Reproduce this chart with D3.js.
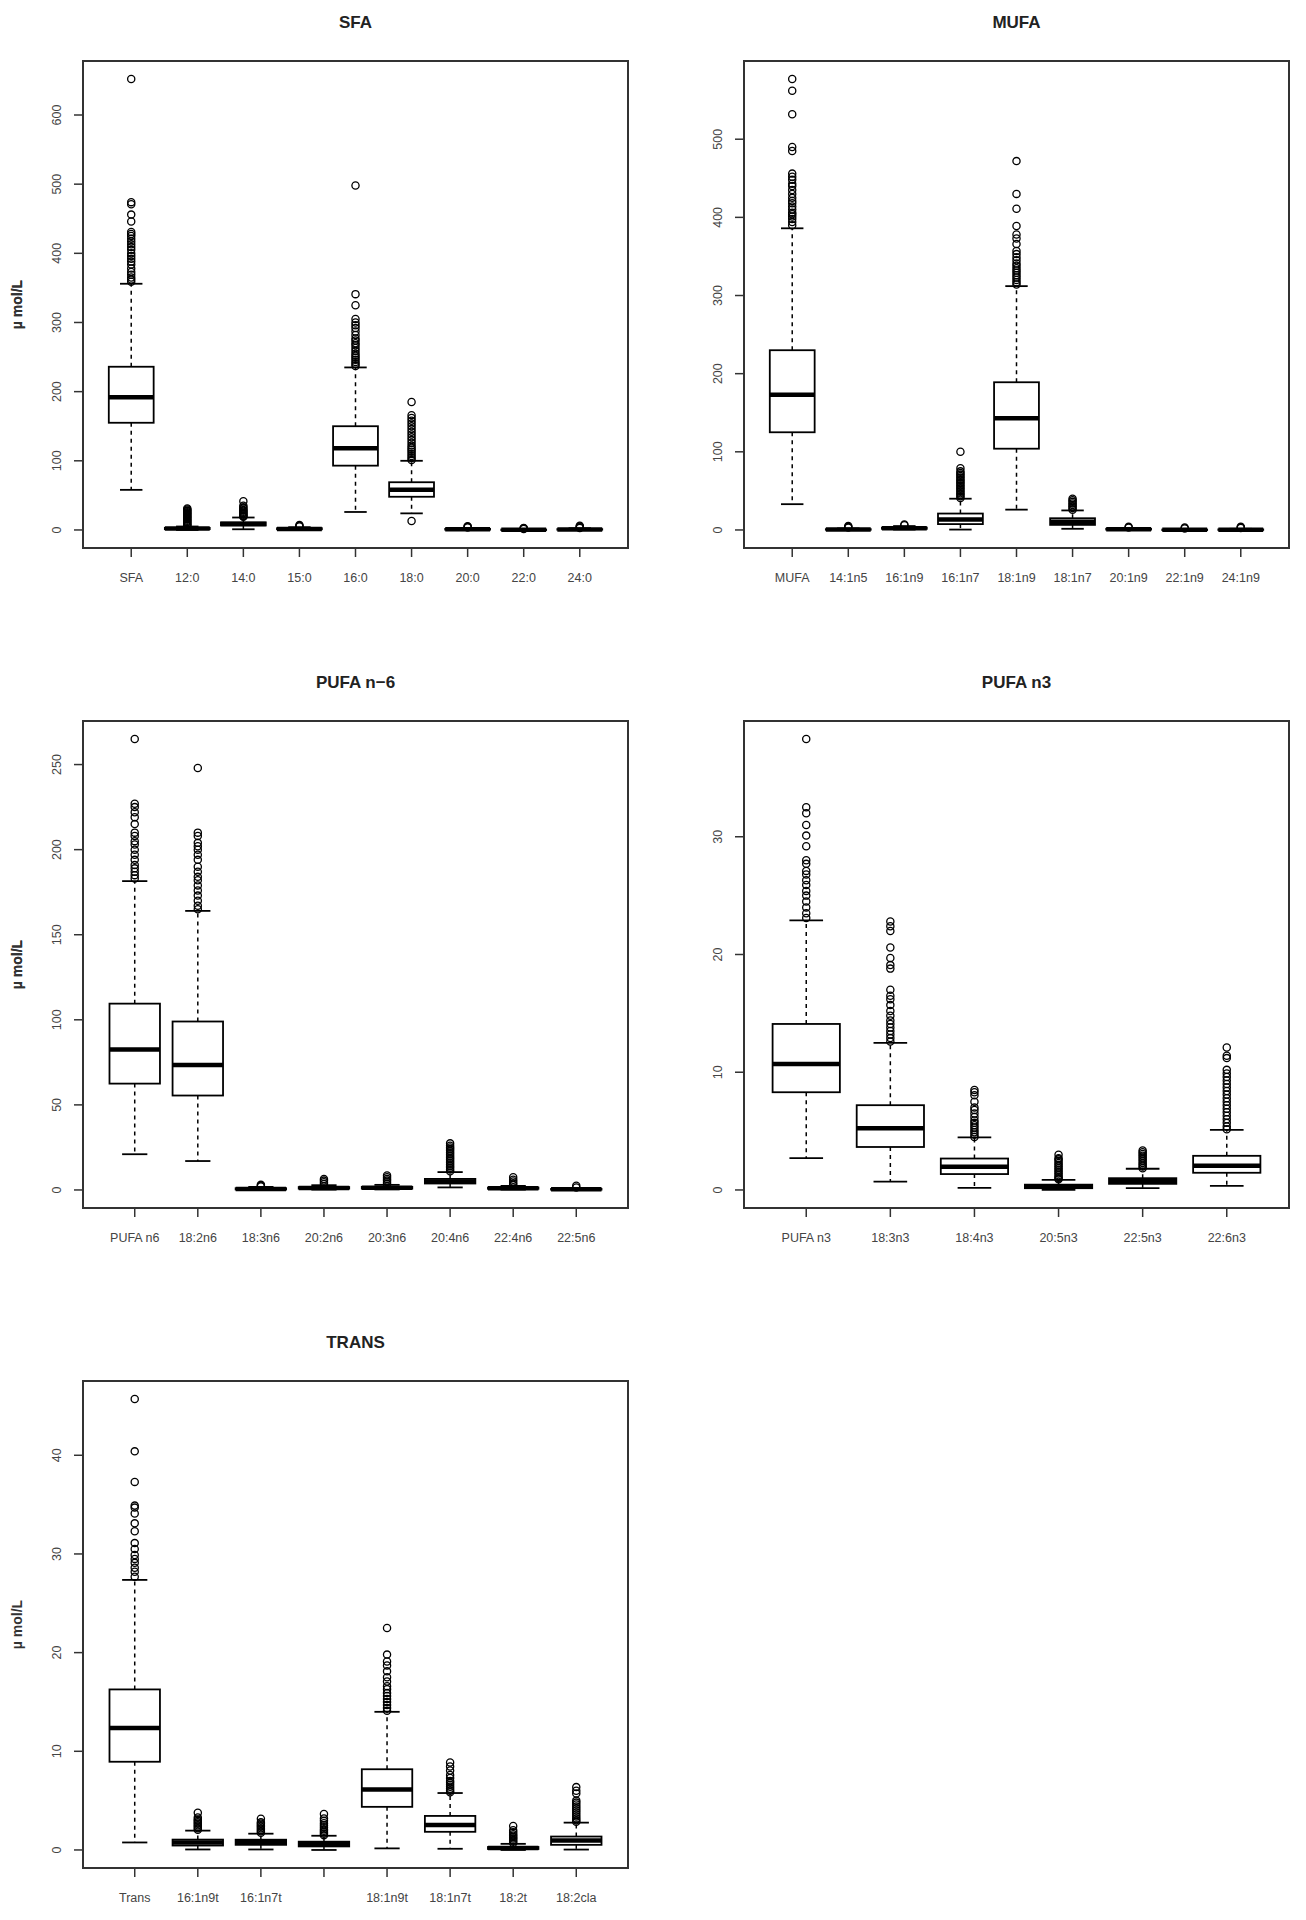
<!DOCTYPE html>
<html>
<head>
<meta charset="utf-8">
<script src="https://cdn.jsdelivr.net/npm/d3@7"></script>
<style>
  html, body { margin: 0; padding: 0; background: #fff; }
  svg { display: block; }
</style>
</head>
<body>
<script>
// ---------------- DATA ----------------
// stats: [lower whisker, Q1, median, Q3, upper whisker]
const sfaCats = ["SFA","12:0","14:0","15:0","16:0","18:0","20:0","22:0","24:0"];
const sfaStats = [
  [58,155,192,236,356],[0,1.2,2,3,5],[1,6.5,8.5,11,18],[0,1,1.5,2.5,4],
  [26,93,118,150,235],[24,48,58,69,100],[0,0.5,1,1.5,3],[0,0.2,0.4,0.6,1.2],[0,0.4,0.8,1.2,2.5]
];
const sfaOut = [
  [359,362,365,369,373,378,384,388,392,396,400,405,409,413,417,421,425,428,431,446,456,471,474,652],
  [6,7,8,9.5,11,12,13.5,15,16,17.5,19,20,21.5,23,24,25.5,27,28,29.5,31],
  [19,20,21,22.5,24,25,26.5,28,29,31,33,35,41.5],
  [5,6,7],
  [237,240,243,246,249,252,255,259,263,267,270,274,277,282,287,292,296,300,305,325,341,498],
  [13,101,104,107,110,113,116,119,122,126,130,134,138,142,146,150,154,158,162,166,185],
  [3.5,4.5,5.5],[1.5,2.5,3],[3,4,5,6]
];
const sfaTicks = [0,100,200,300,400,500,600];

const mufaCats = ["MUFA","14:1n5","16:1n9","16:1n7","18:1n9","18:1n7","20:1n9","22:1n9","24:1n9"];
const mufaStats = [
  [33,125,173,230,386],[0,0.3,0.6,1,2],[0.5,1.5,2.2,3,5],[0.5,7.5,13.5,21,40],
  [26,104,143,189,312],[1.5,6.5,10.5,15,25],[0,0.5,1,1.5,2.5],[0,0.1,0.3,0.5,1],[0,0.2,0.4,0.7,1.5]
];
const mufaOut = [
  [390,394,398,401,404,406,410,414,418,421,425,430,435,440,443,448,452,456,485,490,532,562,577],
  [3,4,5],[6,7],
  [41,43,45,47,49,51,53,55,57,59,61,63,65,67,69,71,73,75,79,100],
  [314,317,320,323,326,329,332,335,338,341,345,349,353,357,366,373,378,389,411,430,472],
  [26,28,30,32,34,36,38,40],[3,4],[2,3],[2.5,3.5,4]
];
const mufaTicks = [0,100,200,300,400,500];

const n6Cats = ["PUFA n6","18:2n6","18:3n6","20:2n6","20:3n6","20:4n6","22:4n6","22:5n6"];
const n6Stats = [
  [21,62.5,82.5,109.5,181.5],[17,55.5,73.5,99,164],[0,0.3,0.6,1,1.8],[0.2,0.8,1.2,1.7,2.8],
  [0.3,0.8,1.3,1.8,3],[1.5,3.8,5,6.5,10.5],[0.2,0.7,1,1.4,2.4],[0,0.2,0.4,0.6,1.1]
];
const n6Out = [
  [183,185,187,189,191,194,197,200,203,205,208,210,215,219,222,225,227,265],
  [165,167,170,173,176,179,182,184,187,190,194,197,200,202,204,208,210,248],
  [2,2.5,3],[3.5,4.5,5.5,6.5],[3.5,4.5,5.5,6.5,7.5,8.5],
  [11,12,13,14,15,16,17,18,19,20,21,22,23,24,25,26,27.4],
  [3,4,5,6,7.5],[1.5,2.5]
];
const n6Ticks = [0,50,100,150,200,250];

const n3Cats = ["PUFA n3","18:3n3","18:4n3","20:5n3","22:5n3","22:6n3"];
const n3Stats = [
  [2.7,8.3,10.7,14.1,22.9],[0.7,3.65,5.25,7.2,12.5],[0.17,1.35,1.98,2.67,4.47],
  [0,0.15,0.3,0.45,0.85],[0.15,0.52,0.76,1.0,1.8],[0.35,1.46,2.05,2.9,5.1]
];
const n3Out = [
  [23.1,23.5,24,24.5,25,25.4,25.9,26.3,26.8,27.1,27.7,28,29.2,30.1,31,32,32.5,38.3],
  [12.6,12.9,13.2,13.5,13.8,14.1,14.4,14.8,15.2,15.7,16.2,16.5,17,18.8,19.1,19.7,20.6,22,22.4,22.8],
  [4.5,4.7,4.9,5.1,5.3,5.5,5.7,5.9,6.2,6.5,6.8,7,7.5,8.05,8.3,8.5],
  [0.9,1.0,1.1,1.25,1.4,1.55,1.7,1.85,2.0,2.15,2.3,2.45,2.6,2.7,3.0],
  [1.85,2,2.15,2.3,2.45,2.6,2.75,2.9,3.05,3.2,3.35],
  [5.15,5.4,5.7,6,6.3,6.6,6.9,7.2,7.5,7.8,8.1,8.4,8.7,9,9.3,9.6,9.9,10.2,11.2,11.4,12.1]
];
const n3Ticks = [0,10,20,30];

const transCats = ["Trans","16:1n9t","16:1n7t","","18:1n9t","18:1n7t","18:2t","18:2cla"];
const transStats = [
  [0.76,8.94,12.35,16.27,27.37],[0.05,0.45,0.75,1.05,1.96],[0.05,0.52,0.84,1.04,1.65],
  [0,0.36,0.6,0.84,1.44],[0.16,4.37,6.13,8.18,14],[0.12,1.84,2.52,3.45,5.77],
  [0,0.1,0.2,0.3,0.62],[0.04,0.52,0.96,1.36,2.77]
];
const transOut = [
  [27.7,28.2,28.6,29.1,29.5,29.9,30.5,31.1,32.3,33.1,34.1,34.7,34.9,37.3,40.4,45.7],
  [2.05,2.2,2.35,2.5,2.65,2.8,2.95,3.1,3.3,3.77],
  [1.75,1.9,2.05,2.2,2.35,2.5,2.65,2.8,3.17],
  [1.5,1.65,1.8,1.95,2.1,2.3,2.5,2.7,2.95,3.2,3.65],
  [14.1,14.4,14.7,15,15.3,15.6,15.9,16.3,16.6,17.07,17.5,18.1,18.7,19.1,19.8,22.5],
  [5.85,6.0,6.2,6.4,6.6,6.8,7.0,7.3,7.6,8.06,8.46,8.86],
  [0.7,0.85,1.0,1.15,1.3,1.45,1.6,1.8,2.0,2.44],
  [2.85,3.0,3.2,3.4,3.6,3.8,4.0,4.2,4.4,4.6,4.8,5.0,5.73,6.0,6.37]
];
const transTicks = [0,10,20,30,40];

const titles = ["SFA","MUFA","PUFA n\u22126","PUFA n3","TRANS"];
const yLabel = "\u00b5 mol/L";

// ---------------- LAYOUT ----------------
const W = 1306, H = 1920;
const colX = [83, 744];
const rowY = [61, 721, 1381];
const PW = 545, PH = 487;
const font = "'Liberation Sans', Arial, Helvetica, sans-serif";

const panels = [
  {title: titles[0], cats: sfaCats, stats: sfaStats, out: sfaOut, ticks: sfaTicks, c: 0, r: 0},
  {title: titles[1], cats: mufaCats, stats: mufaStats, out: mufaOut, ticks: mufaTicks, c: 1, r: 0},
  {title: titles[2], cats: n6Cats, stats: n6Stats, out: n6Out, ticks: n6Ticks, c: 0, r: 1},
  {title: titles[3], cats: n3Cats, stats: n3Stats, out: n3Out, ticks: n3Ticks, c: 1, r: 1},
  {title: titles[4], cats: transCats, stats: transStats, out: transOut, ticks: transTicks, c: 0, r: 2}
];

const svg = d3.select("body").append("svg")
  .attr("width", W).attr("height", H)
  .style("font-family", font);

panels.forEach(p => {
  const x0 = colX[p.c], y0 = rowY[p.r];
  const n = p.cats.length;
  const g = svg.append("g").attr("transform", `translate(${x0},${y0})`);

  // x scale as R: xlim = [0.5, n+0.5] extended by 4%
  const xe = 0.04 * n;
  const x = d3.scaleLinear().domain([0.5 - xe, n + 0.5 + xe]).range([0, PW]);
  // y scale: data range extended by 4%
  const allV = p.stats.flat().concat(p.out.flat());
  const lo = d3.min(allV), hi = d3.max(allV);
  const ye = 0.04 * (hi - lo);
  const y = d3.scaleLinear().domain([lo - ye, hi + ye]).range([PH, 0]);

  const unit = x(2) - x(1);
  const bw = 0.8 * unit;      // box width
  const sw = 0.5 * bw;        // staple width

  // boxes
  p.stats.forEach((s, i) => {
    const cx = x(i + 1);
    const [wl, q1, md, q3, wh] = s;
    const bg = g.append("g");
    // whiskers
    bg.append("line").attr("x1", cx).attr("x2", cx).attr("y1", y(q3)).attr("y2", y(wh))
      .attr("stroke", "#000").attr("stroke-width", 1.5).attr("stroke-dasharray", "4,4");
    bg.append("line").attr("x1", cx).attr("x2", cx).attr("y1", y(q1)).attr("y2", y(wl))
      .attr("stroke", "#000").attr("stroke-width", 1.5).attr("stroke-dasharray", "4,4");
    // staples
    [wl, wh].forEach(v => {
      bg.append("line").attr("x1", cx - sw / 2).attr("x2", cx + sw / 2)
        .attr("y1", y(v)).attr("y2", y(v))
        .attr("stroke", "#000").attr("stroke-width", 1.8);
    });
    // box
    bg.append("rect").attr("x", cx - bw / 2).attr("width", bw)
      .attr("y", y(q3)).attr("height", Math.max(0.5, y(q1) - y(q3)))
      .attr("fill", "#fff").attr("stroke", "#000").attr("stroke-width", 1.8);
    // median
    bg.append("line").attr("x1", cx - bw / 2).attr("x2", cx + bw / 2)
      .attr("y1", y(md)).attr("y2", y(md))
      .attr("stroke", "#000").attr("stroke-width", 4.5);
    // outliers
    bg.selectAll("circle").data(p.out[i]).join("circle")
      .attr("cx", cx).attr("cy", d => y(d)).attr("r", 3.6)
      .attr("fill", "none").attr("stroke", "#000").attr("stroke-width", 1.3);
  });

  // frame
  g.append("rect").attr("x", 0).attr("y", 0).attr("width", PW).attr("height", PH)
    .attr("fill", "none").attr("stroke", "#333").attr("stroke-width", 2);

  // y axis ticks & labels
  p.ticks.forEach(t => {
    g.append("line").attr("x1", -9).attr("x2", 0).attr("y1", y(t)).attr("y2", y(t))
      .attr("stroke", "#333").attr("stroke-width", 1.5);
    g.append("text").attr("transform", `translate(-26,${y(t)}) rotate(-90)`)
      .attr("text-anchor", "middle").attr("dominant-baseline", "central")
      .attr("font-size", 12.5).attr("fill", "#444").text(t);
  });
  // x axis ticks & labels
  p.cats.forEach((c, i) => {
    const cx = x(i + 1);
    g.append("line").attr("x1", cx).attr("x2", cx).attr("y1", PH).attr("y2", PH + 9)
      .attr("stroke", "#333").attr("stroke-width", 1.5);
    g.append("text").attr("x", cx).attr("y", PH + 30)
      .attr("text-anchor", "middle").attr("dominant-baseline", "central")
      .attr("font-size", 12.5).attr("fill", "#444").text(c);
  });

  // title
  g.append("text").attr("x", PW / 2).attr("y", -39)
    .attr("text-anchor", "middle").attr("dominant-baseline", "central")
    .attr("font-size", 17).attr("font-weight", "bold").attr("fill", "#222").text(p.title);

  // y label
  g.append("text").attr("transform", `translate(${-x0 + 17},${PH / 2}) rotate(-90)`)
    .attr("text-anchor", "middle").attr("dominant-baseline", "central")
    .attr("font-size", 14).attr("font-weight", "bold").attr("fill", "#333").text(yLabel);
});
</script>
</body>
</html>
